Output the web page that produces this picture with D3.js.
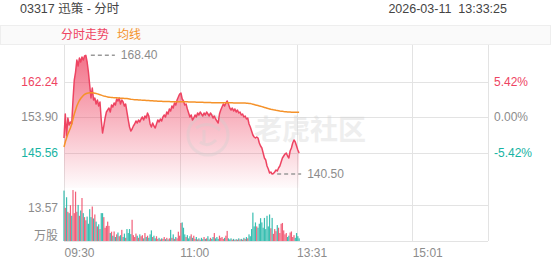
<!DOCTYPE html>
<html>
<head>
<meta charset="utf-8">
<script src="https://cdn.jsdelivr.net/npm/d3@7"></script>
<style>
  body { margin: 0; background: #fff; }
  svg text { font-family: "Liberation Sans", "Noto Sans CJK SC", sans-serif; }
</style>
</head>
<body>
<svg id="chart" width="552" height="265"></svg>
<script>
// intraday chart: price line + avg line on top, volume bars below

// Data (one value per trading minute from 09:30)
var prevClose = 153.90;
var priceTicks = [145.56, 153.90, 162.24];
var pctTicks = ["-5.42%", "0.00%", "5.42%"];
var volTick = 13.57;
var timeTicks = [0, 90, 181, 271];
var timeLabels = ["09:30", "11:00", "13:31", "15:01"];

var prices = [
  148.97, 154.60, 149.44, 153.67, 152.02, 152.73, 152.26, 157.89, 162.59, 164.47,
  167.29, 165.88, 167.76, 166.82, 168.00, 167.29, 168.23, 168.40, 166.82, 164.47,
  161.42, 158.36, 160.71, 157.89, 158.36, 156.95, 157.89, 156.48, 157.42, 153.20,
  150.14, 151.79, 153.67, 155.07, 155.54, 156.01, 155.07, 156.72, 156.25, 157.19,
  156.72, 158.13, 157.66, 158.36, 156.95, 157.89, 157.42, 156.48, 156.95, 155.07,
  153.20, 151.55, 150.61, 151.08, 151.79, 152.26, 152.96, 152.49, 153.20, 152.73,
  153.43, 153.90, 153.20, 154.13, 153.67, 154.84, 154.13, 152.26, 151.55, 152.49,
  151.79, 151.32, 152.26, 153.20, 152.73, 153.43, 152.96, 153.90, 154.37, 153.90,
  155.07, 154.60, 155.78, 155.31, 156.48, 156.01, 157.19, 156.72, 157.89, 158.60,
  159.30, 159.54, 158.13, 157.66, 156.72, 156.95, 155.78, 154.84, 153.90, 154.37,
  153.20, 153.67, 154.37, 153.90, 154.84, 154.37, 155.07, 154.60, 154.13, 154.84,
  154.37, 155.07, 154.60, 154.13, 154.84, 154.37, 153.67, 154.13, 153.43, 152.96,
  152.49, 154.60, 155.54, 156.25, 156.95, 156.48, 157.19, 157.66, 156.95, 156.01,
  155.54, 156.01, 155.31, 155.78, 155.07, 155.54, 154.84, 155.07, 154.37, 154.60,
  153.90, 154.13, 153.43, 153.67, 152.26, 151.55, 150.61, 149.67, 149.20, 148.97,
  149.20, 148.97, 147.79, 147.09, 146.62, 145.44, 144.27, 143.80, 142.39, 141.68,
  140.74, 140.98, 140.50, 140.62, 140.98, 141.45, 141.21, 141.92, 142.39, 143.33,
  144.27, 144.74, 145.21, 145.44, 144.74, 144.27, 145.91, 146.62, 147.79, 148.50,
  148.03, 147.09, 146.15, 145.44
];

var avgPrices = [
  146.85, 148.03, 148.97, 149.91, 150.61, 151.32, 152.26, 153.43, 154.60, 155.54,
  156.48, 157.19, 157.78, 158.25, 158.60, 158.95, 159.19, 159.37, 159.49, 159.56,
  159.61, 159.61, 159.59, 159.54, 159.47, 159.40, 159.33, 159.23, 159.14, 159.04,
  158.93, 158.83, 158.76, 158.69, 158.62, 158.55, 158.52, 158.50, 158.47, 158.45,
  158.42, 158.40, 158.38, 158.35, 158.33, 158.31, 158.29, 158.27, 158.25, 158.22,
  158.18, 158.13, 158.08, 158.04, 158.00, 157.97, 157.95, 157.93, 157.91, 157.89,
  157.87, 157.86, 157.84, 157.82, 157.80, 157.79, 157.77, 157.74, 157.71, 157.69,
  157.67, 157.65, 157.63, 157.61, 157.60, 157.59, 157.58, 157.57, 157.56, 157.55,
  157.54, 157.53, 157.52, 157.51, 157.50, 157.50, 157.50, 157.49, 157.49, 157.49,
  157.50, 157.51, 157.50, 157.49, 157.48, 157.47, 157.46, 157.45, 157.44, 157.43,
  157.42, 157.41, 157.40, 157.39, 157.38, 157.37, 157.36, 157.35, 157.34, 157.33,
  157.32, 157.31, 157.30, 157.29, 157.28, 157.27, 157.26, 157.25, 157.24, 157.23,
  157.22, 157.22, 157.23, 157.23, 157.24, 157.24, 157.24, 157.24, 157.23, 157.23,
  157.22, 157.22, 157.21, 157.21, 157.20, 157.20, 157.19, 157.19, 157.18, 157.18,
  157.17, 157.16, 157.15, 157.13, 157.10, 157.05, 156.98, 156.90, 156.82, 156.74,
  156.66, 156.58, 156.50, 156.42, 156.33, 156.24, 156.15, 156.06, 155.97, 155.88,
  155.80, 155.72, 155.65, 155.58, 155.52, 155.46, 155.41, 155.36, 155.31, 155.27,
  155.23, 155.19, 155.16, 155.13, 155.10, 155.08, 155.06, 155.04, 155.03, 155.02,
  155.01, 155.00, 155.00, 154.99
];

var volumes = [
  19.0, 12.5, 16.5, 11.0, 10.5, 13.5, 9.5, 19.2, 10.5, 18.6,
  11.0, 13.6, 9.5, 11.5, 16.2, 10.5, 9.0, 7.8, 9.2, 6.5,
  12.0, 9.0, 13.0, 8.5, 10.0, 7.3, 5.5, 6.3, 4.5, 10.5,
  10.5, 9.0, 5.0, 5.7, 7.3, 5.7, 3.0, 3.5, 2.0, 3.6,
  1.5, 2.5, 3.2, 1.8, 2.2, 4.2, 1.5, 2.8, 1.2, 4.5,
  3.0, 4.5, 2.6, 8.0, 2.2, 1.5, 2.8, 2.0, 1.2, 2.5,
  1.8, 2.2, 1.0, 3.0, 1.5, 2.0, 1.2, 2.5, 4.0, 1.5,
  2.0, 1.0, 1.8, 0.8, 1.2, 0.6, 1.0, 0.8, 1.5, 0.7,
  1.2, 0.6, 1.0, 4.2, 1.2, 2.5, 0.8, 1.5, 1.0, 3.5,
  2.0, 6.8, 7.0, 5.0, 2.5, 1.5, 2.2, 1.0, 1.8, 2.5,
  1.2, 2.0, 0.8, 1.5, 0.6, 1.0, 0.5, 1.2, 0.7, 1.5,
  0.8, 1.0, 1.8, 0.6, 1.2, 0.8, 1.5, 3.0, 1.0, 1.5,
  0.8, 2.0, 1.2, 1.5, 0.8, 1.2, 2.0, 3.8, 1.0, 0.6,
  1.0, 0.5, 0.8, 0.4, 0.7, 0.5, 1.0, 0.6, 0.8, 0.5,
  1.2, 0.8, 1.5, 1.0, 2.5, 1.8, 4.5, 10.7, 5.5, 7.0,
  5.5, 5.0, 6.5, 8.6, 7.0, 5.0, 8.7, 4.5, 9.5, 5.5,
  10.0, 4.8, 8.7, 2.7, 4.5, 3.7, 6.0, 5.0, 3.0, 6.5,
  6.8, 4.0, 2.5, 3.0, 1.5, 2.0, 3.2, 3.6, 1.5, 2.2,
  1.2, 3.0, 1.8, 1.0
];

// Colors
var Red = "#ee4462", Green = "#17b3a3", Orange = "#f5922a";
var GridColor = "#e3e3e3", LabelGray = "#8c8c8c";

// Layout
var Left = 64, Right = 488;
var PriceTop = 46, PriceBottom = 188;
var VolBottom = 241;
var step = 8.34;

var svg = d3.select("#chart");

var x = d3.scaleLinear().domain([0, 330]).range([Left, Right]);
var y = d3.scaleLinear().domain([prevClose - 2 * step, prevClose + 2 * step]).range([PriceBottom, PriceTop]);
var yVol = d3.scaleLinear().domain([0, volTick]).range([VolBottom, 205]);

function priceColor(v) {
  if (Math.abs(v - prevClose) < 0.001) return LabelGray;
  return v > prevClose ? Red : Green;
}

// header
svg.append("text")
  .attr("x", 20).attr("y", 13)
  .style("font-size", "12.5px").style("fill", "#444")
  .text("03317 迅策 - 分时");
svg.append("text")
  .attr("x", 507).attr("y", 13)
  .attr("text-anchor", "end")
  .style("font-size", "12.5px").style("fill", "#444")
  .style("white-space", "pre")
  .text("2026-03-11  13:33:25");

svg.append("rect")
  .attr("x", 0.5).attr("y", 25.5).attr("width", 550).attr("height", 19)
  .style("fill", "#fafafa").style("stroke", "#eeeeee");
svg.append("text")
  .attr("x", 61).attr("y", 39)
  .style("font-size", "12px").style("fill", Red)
  .text("分时走势");
svg.append("text")
  .attr("x", 117).attr("y", 39)
  .style("font-size", "12px").style("fill", Orange)
  .text("均线");

// grid
var grid = svg.append("g").style("stroke", GridColor).style("shape-rendering", "crispEdges");
grid.selectAll("line.h")
  .data(priceTicks)
  .enter().append("line")
    .attr("x1", Left).attr("x2", Right)
    .attr("y1", function(d) { return Math.round(y(d)) + 0.5; })
    .attr("y2", function(d) { return Math.round(y(d)) + 0.5; });
grid.append("line")
  .attr("x1", Left).attr("x2", Right)
  .attr("y1", Math.round(yVol(volTick)) + 0.5).attr("y2", Math.round(yVol(volTick)) + 0.5);
grid.append("line")
  .attr("x1", Left).attr("x2", Right)
  .attr("y1", VolBottom + 0.5).attr("y2", VolBottom + 0.5);
grid.selectAll("line.v")
  .data(timeTicks.concat([330]))
  .enter().append("line")
    .attr("x1", function(d) { return Math.round(x(d)) + 0.5; })
    .attr("x2", function(d) { return Math.round(x(d)) + 0.5; })
    .attr("y1", 45).attr("y2", VolBottom);

// price area with gradient
var grad = svg.append("defs").append("linearGradient")
  .attr("id", "fillGrad")
  .attr("gradientUnits", "userSpaceOnUse")
  .attr("x1", 0).attr("x2", 0)
  .attr("y1", y(d3.max(prices))).attr("y2", PriceBottom);
grad.append("stop").attr("offset", 0).attr("stop-color", Red).attr("stop-opacity", 0.75);
grad.append("stop").attr("offset", 1).attr("stop-color", Red).attr("stop-opacity", 0.02);

svg.append("path")
  .datum(prices)
  .attr("d", d3.area()
    .x(function(d, i) { return x(i); })
    .y0(PriceBottom)
    .y1(function(d) { return y(d); }))
  .style("fill", "url(#fillGrad)");

// watermark (drawn over the fill, faint)
var wm = svg.append("g").style("opacity", 0.35);
wm.append("circle")
  .attr("cx", 208).attr("cy", 135).attr("r", 20)
  .style("fill", "none").style("stroke", "#d0d0d0").style("stroke-width", 3);
wm.append("path")
  .attr("d", "M196,128 q12,-8 24,2 M200,142 q8,6 16,-2 M204,130 l0,14")
  .style("fill", "none").style("stroke", "#d0d0d0").style("stroke-width", 3);
wm.append("text")
  .attr("x", 254).attr("y", 140)
  .style("font-size", "28px").style("font-weight", "bold")
  .style("fill", "#d0d0d0")
  .text("老虎社区");

svg.append("path")
  .datum(prices)
  .attr("d", d3.line()
    .x(function(d, i) { return x(i); })
    .y(function(d) { return y(d); }))
  .style("fill", "none").style("stroke", Red).style("stroke-width", 1.5)
  .style("stroke-linejoin", "round");

svg.append("path")
  .datum(avgPrices)
  .attr("d", d3.line()
    .x(function(d, i) { return x(i); })
    .y(function(d) { return y(d); }))
  .style("fill", "none").style("stroke", Orange).style("stroke-width", 1.5);

// high / low markers
function markExtreme(idx) {
  var px = x(idx), py = y(prices[idx]);
  svg.append("line")
    .attr("x1", px + 5).attr("x2", px + 29)
    .attr("y1", py).attr("y2", py)
    .style("stroke", "#999").style("stroke-width", 1.5)
    .style("stroke-dasharray", "4,3");
  svg.append("text")
    .attr("x", px + 35).attr("y", py)
    .attr("dy", "0.35em")
    .style("font-size", "12px").style("fill", LabelGray)
    .text(prices[idx].toFixed(2));
}
markExtreme(d3.maxIndex(prices));
markExtreme(d3.minIndex(prices));

// volume bars
svg.append("g").selectAll("rect")
  .data(volumes)
  .enter().append("rect")
    .attr("x", function(d, i) { return x(i) - 0.6; })
    .attr("width", 1.2)
    .attr("y", function(d) { return yVol(d); })
    .attr("height", function(d) { return VolBottom - yVol(d); })
    .style("fill", function(d, i) {
      var prev = i === 0 ? prevClose : prices[i - 1];
      return prices[i] >= prev ? Red : Green;
    })
    .style("opacity", 0.85);

// left price axis
svg.append("g").selectAll("text")
  .data(priceTicks)
  .enter().append("text")
    .attr("x", 58).attr("y", function(d) { return y(d); })
    .attr("dy", "0.35em").attr("text-anchor", "end")
    .style("font-size", "12px")
    .style("fill", function(d) { return priceColor(d); })
    .text(function(d) { return d.toFixed(2); });

// right percent axis
svg.append("g").selectAll("text")
  .data(priceTicks)
  .enter().append("text")
    .attr("x", 494).attr("y", function(d) { return y(d); })
    .attr("dy", "0.35em")
    .style("font-size", "12px")
    .style("fill", function(d) { return priceColor(d); })
    .text(function(d, i) { return pctTicks[i]; });

// volume labels
svg.append("text")
  .attr("x", 58).attr("y", yVol(volTick) + 3)
  .attr("dy", "0.35em").attr("text-anchor", "end")
  .style("font-size", "12px").style("fill", LabelGray)
  .text(volTick.toFixed(2));
svg.append("text")
  .attr("x", 58).attr("y", 236)
  .attr("dy", "0.35em").attr("text-anchor", "end")
  .style("font-size", "12px").style("fill", LabelGray)
  .text("万股");

// time axis
var xAxis = d3.axisBottom(x)
  .tickValues(timeTicks)
  .tickSize(0)
  .tickFormat(function(d, i) { return timeLabels[i]; });
var gx = svg.append("g")
  .attr("transform", "translate(0," + (VolBottom + 3) + ")")
  .call(xAxis);
gx.select(".domain").remove();
gx.selectAll("text")
  .attr("text-anchor", "start")
  .attr("x", 0).attr("dy", "0.8em")
  .style("font-size", "12px").style("fill", LabelGray)
  .style("font-family", "'Liberation Sans', sans-serif");
</script>
</body>
</html>
